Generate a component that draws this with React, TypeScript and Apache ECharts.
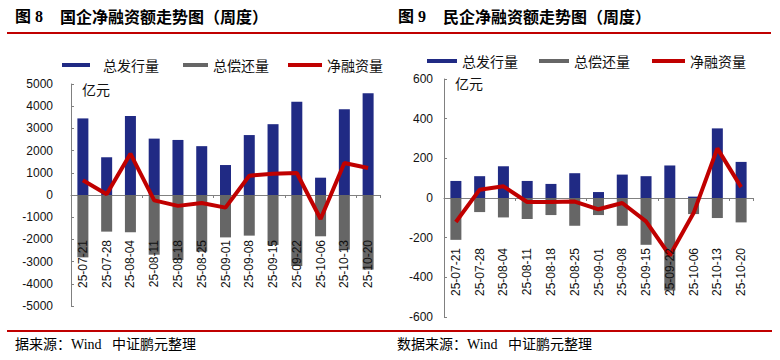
import React, { useEffect, useRef } from 'react';
import * as echarts from 'echarts';

const categories = ['25-07-21', '25-07-28', '25-08-04', '25-08-11', '25-08-18', '25-08-25', '25-09-01', '25-09-08', '25-09-15', '25-09-22', '25-10-06', '25-10-13', '25-10-20'];
const legendNames = ['总发行量', '总偿还量', '净融资量'];
const soeIssue = [3450, 1700, 3560, 2540, 2480, 2200, 1350, 2700, 3190, 4200, 780, 3860, 4580];
const soeRepay = [-2810, -1650, -1680, -2690, -2930, -2550, -1910, -1830, -2250, -3200, -1860, -2460, -3360];
const soeNet = [660, 30, 1860, -240, -490, -360, -570, 870, 960, 990, -1080, 1440, 1220];
const poeIssue = [86, 110, 160, 86, 71, 125, 30, 118, 110, 164, 7, 351, 182];
const poeRepay = [-211, -71, -98, -106, -86, -140, -86, -140, -236, -467, -81, -101, -123];
const poeNet = [-121, 42, 59, -20, -20, -18, -57, -25, -118, -290, -76, 250, 55];

const BLUE = '#202A84';
const GRAY = '#666666';
const RED = '#C00000';
const AXIS = '#808080';
const SANS = '"Liberation Sans", Arial, sans-serif';
const CJK = '"Noto Sans CJK SC", sans-serif';

function legend(left: number, top: number, name: string, w: number, color: string, pad: number) {
  return {
    left, top, padding: 0, itemWidth: w, itemHeight: 4, itemGap: 0,
    selectedMode: false,
    data: [{ name, icon: 'rect', itemStyle: { color } }],
    textStyle: { fontFamily: CJK, fontSize: 14, color: '#111', padding: [0, 0, 0, pad] },
  };
}

export default function App() {
  const ref = useRef<HTMLDivElement>(null);
  useEffect(() => {
    if (!ref.current) return;
    const chart = echarts.init(ref.current, undefined, { renderer: 'svg' });
    const xAxisLine = (gridIndex: number) => ({
      type: 'category', gridIndex, data: categories, boundaryGap: true,
      axisLine: { onZero: true, lineStyle: { color: AXIS, width: 1 } },
      axisTick: { show: true, length: 3, lineStyle: { color: AXIS } },
      axisLabel: { show: false },
      splitLine: { show: false },
    });
    const xAxisLabels = (gridIndex: number, margin: number) => ({
      type: 'category', gridIndex, data: categories, boundaryGap: true, position: 'bottom', z: 20,
      axisLine: { show: false, onZero: false },
      axisTick: { show: false },
      axisLabel: { rotate: 90, margin, fontFamily: SANS, fontSize: 12, color: '#111', interval: 0, hideOverlap: false },
      splitLine: { show: false },
    });
    const yAxisBase = (gridIndex: number, min: number, max: number, interval: number, margin: number) => ({
      type: 'value', gridIndex, min, max, interval,
      axisLine: { show: true, lineStyle: { color: AXIS, width: 1 } },
      axisTick: { show: true, inside: true, length: 3, lineStyle: { color: AXIS } },
      axisLabel: { margin, fontFamily: SANS, fontSize: 12, color: '#111', formatter: (v: number) => String(v) },
      splitLine: { show: false },
    });
    chart.setOption({
      animation: false,
      legend: [
        legend(62, 58, legendNames[0], 28, BLUE, 8),
        legend(183, 58, legendNames[1], 25, GRAY, 0),
        legend(288, 58, legendNames[2], 34, RED, 0),
        legend(427, 54, legendNames[0], 30, BLUE, 0),
        legend(539, 54, legendNames[1], 30, GRAY, 0),
        legend(652, 54, legendNames[2], 33, RED, 0),
      ],
      grid: [
        { left: 71, right: 400, top: 84, bottom: 54, containLabel: false, outerBoundsMode: 'none' },
        { left: 444, right: 27, top: 79, bottom: 43, containLabel: false, outerBoundsMode: 'none' },
      ],
      xAxis: [xAxisLine(0), xAxisLine(1), xAxisLabels(0, -66), xAxisLabels(1, -69)],
      yAxis: [yAxisBase(0, -5000, 5000, 1000, 18), yAxisBase(1, -600, 600, 200, 11)],
      series: [
        { name: legendNames[0], type: 'bar', xAxisIndex: 0, yAxisIndex: 0, data: soeIssue, barWidth: 11, barGap: '-100%', itemStyle: { color: BLUE } },
        { name: legendNames[1], type: 'bar', xAxisIndex: 0, yAxisIndex: 0, data: soeRepay, barWidth: 11, barGap: '-100%', itemStyle: { color: GRAY } },
        { name: legendNames[2], type: 'line', xAxisIndex: 0, yAxisIndex: 0, data: soeNet, color: RED, showSymbol: false, symbol: 'none', lineStyle: { color: RED, width: 4 }, z: 5 },
        { name: legendNames[0], type: 'bar', xAxisIndex: 1, yAxisIndex: 1, data: poeIssue, barWidth: 11, barGap: '-100%', itemStyle: { color: BLUE } },
        { name: legendNames[1], type: 'bar', xAxisIndex: 1, yAxisIndex: 1, data: poeRepay, barWidth: 11, barGap: '-100%', itemStyle: { color: GRAY } },
        { name: legendNames[2], type: 'line', xAxisIndex: 1, yAxisIndex: 1, data: poeNet, color: RED, showSymbol: false, symbol: 'none', lineStyle: { color: RED, width: 4 }, z: 5 },
      ],
      graphic: [
        { type: 'text', left: 15, top: 8, style: { text: '图 8', font: 'bold 16px "Liberation Serif", "Noto Sans CJK SC"', fill: '#000' } },
        { type: 'text', left: 60, top: 8, style: { text: '国企净融资额走势图（周度）', font: 'bold 16px "Noto Sans CJK SC"', fill: '#000' } },
        { type: 'text', left: 398, top: 8, style: { text: '图 9', font: 'bold 16px "Liberation Serif", "Noto Sans CJK SC"', fill: '#000' } },
        { type: 'text', left: 443, top: 8, style: { text: '民企净融资额走势图（周度）', font: 'bold 16px "Noto Sans CJK SC"', fill: '#000' } },
        { type: 'rect', shape: { x: 7, y: 32, width: 764, height: 2 }, style: { fill: RED } },
        { type: 'rect', shape: { x: 7, y: 330, width: 765, height: 2 }, style: { fill: RED } },
        { type: 'text', x: 82, y: 89, style: { text: '亿元', font: '14px "Noto Sans CJK SC"', fill: '#111', verticalAlign: 'middle' } },
        { type: 'text', x: 455, y: 83, style: { text: '亿元', font: '14px "Noto Sans CJK SC"', fill: '#111', verticalAlign: 'middle' } },
        { type: 'text', x: 15, y: 344, style: { text: '据来源：Wind   中证鹏元整理', font: '14px "Liberation Serif", "Noto Sans CJK SC"', fill: '#000', verticalAlign: 'middle' } },
        { type: 'text', x: 397, y: 344, style: { text: '数据来源：Wind   中证鹏元整理', font: '14px "Liberation Serif", "Noto Sans CJK SC"', fill: '#000', verticalAlign: 'middle' } },
      ],
    });
    return () => chart.dispose();
  }, []);
  return <div ref={ref} style={{ position: 'absolute', left: 0, top: 0, width: 780, height: 360, background: '#fff' }} />;
}
